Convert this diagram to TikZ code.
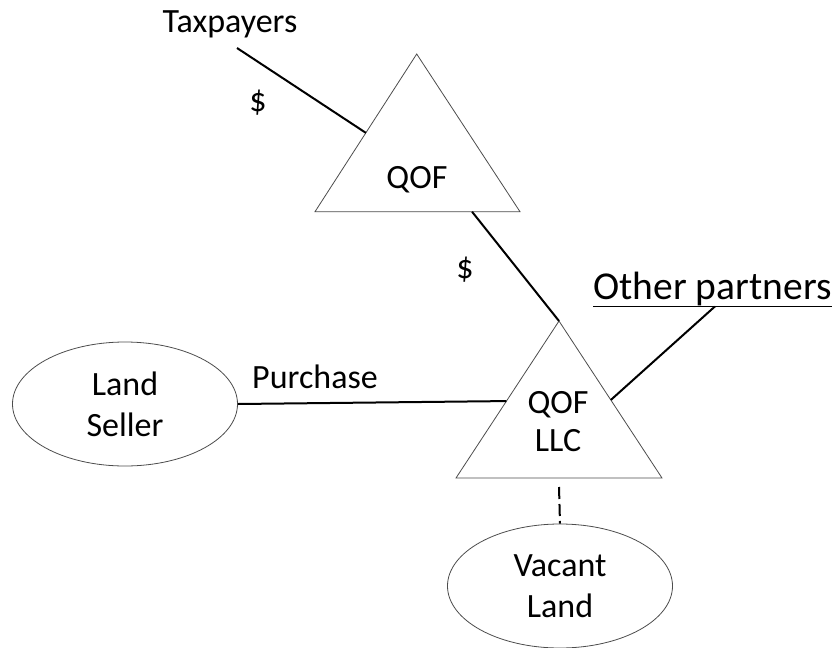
\documentclass[tikz,border=0pt]{standalone}
\usepackage{fontspec}
\setmainfont{Carlito}
\usetikzlibrary{shapes.geometric,calc}
\begin{document}
\begin{tikzpicture}[x=1pt,y=-1pt,
  lbl/.style={inner sep=0pt, anchor=base, font=\fontsize{34}{40}\selectfont},
  outline/.style={draw=black!70, line width=0.8pt},
  conn/.style={line width=2pt, black},
  oval/.style={ellipse, outline, minimum width=225pt, minimum height=124pt, inner sep=0pt, align=center, font=\fontsize{34}{41}\selectfont}]
\useasboundingbox (0,0) rectangle (833,648);
% triangles
\coordinate (qa) at (416.7,54);
\coordinate (ql) at (315,211.7);
\coordinate (qr) at (520,211.7);
\draw[outline] (qa) -- (ql) -- (qr) -- cycle;
\coordinate (la) at (559,321);
\coordinate (ll) at (456,478);
\coordinate (lr) at (662,478);
\draw[outline] (la) -- (ll) -- (lr) -- cycle;
% ellipses
\node[oval] (seller) at (125,404) {Land\\Seller};
\node[oval] (vacant) at (560,586) {Vacant\\Land};
% labels
\node[lbl] (tax) at (230,32) {Taxpayers};
\node[lbl] (d1) at (258,111) {\$};
\node[lbl] (qoftxt) at (417,188) {QOF};
\node[lbl] (d2) at (465,278) {\$};
\node[lbl, anchor=center, align=center, font=\fontsize{34}{38}\selectfont] (llctxt) at (558,422) {QOF\\LLC};
\node[lbl] (purch) at (315,388) {Purchase};
\node[lbl, font=\fontsize{39.5}{46}\selectfont] (other) at (712.5,299.5) {Other partners};
\coordinate (ulw) at ([yshift=-7pt]other.base west);
\coordinate (ule) at ([yshift=-7pt]other.base east);
\draw[line width=1.8pt] (ulw) -- (ule);
\coordinate (ulmid) at ($(ulw)!0.51!(ule)$);
% connectors
\coordinate (taxend) at ([yshift=-16pt]tax.base);
\draw[conn] ([xshift=7pt]taxend) -- ($(qa)!0.5!(ql)$);
\draw[conn] ($(ql)!0.766!(qr)$) -- (la);
\draw[conn] (seller.east) -- ($(la)!0.51!(ll)$);
\draw[conn] ($(la)!0.503!(lr)$) -- (ulmid);
\coordinate (llcbot) at ($(ll)!0.5!(lr)+(0,9)$);
\draw[conn, dash pattern=on 12pt off 5pt] (llcbot) -- (vacant.north);
\end{tikzpicture}
\end{document}
